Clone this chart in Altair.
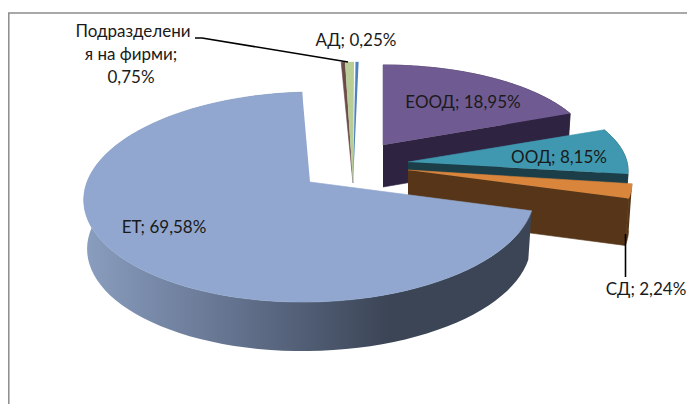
import math
import numpy as np
import pandas as pd
import altair as alt

# values (clockwise from 12 o'clock)
categories = ["ЕООД", "ООД", "СД", "ЕТ", "Подразделения на фирми", "АД"]
shares = [18.95, 8.15, 2.24, 69.58, 0.75, 0.25]

# colours
top_colors = ["#705a92", "#3f98b0", "#da853c", "#91a7cf", "#b9cd96", "#4f81bd"]
wall_colors = ["#2e2340", "#1b3e48", "#573518", "#3b4556", "#6b4a4a", "#7f9a52"]

# exploded-pie projection of each slice:
# apex x, y, radii, perspective, rotation, wall height, shear
geometry = [
    (383, 145, 209, 88, 0.10, 0.0, 42, 0.0),
    (408, 162, 219, 90, 0.10, 0.0, 44, 0.0),
    (408, 170, 223, 103, 0.10, 0.0, 47, 0.0),
    (310, 182, 223, 102.9, 0.143, 0.0, 49, -0.06),
    (353, 183, 215, 138, 0.14, 1.5, 0, 0.0),
    (353, 183, 215, 138, 0.14, 2.0, 0, 0.0),
]

X = alt.Scale(domain=[8, 687], nice=False, zero=False)
Y = alt.Scale(domain=[8, 404], nice=False, zero=False, reverse=True)


def pt(deg, g, bottom=False):
    ax, ay, R, S, k, d, h, sh = g
    a = math.radians(deg + d)
    w = 1 + k * math.cos(a)
    f = 0.985 if bottom else 1.0
    dy = -S * math.cos(a) / w
    return ax + f * R * math.sin(a) / w + sh * dy, ay + (h if bottom else 0) + dy


def shape(points, fill, stroke=None, sw=0.6):
    df = pd.DataFrame(points, columns=["x", "y"]).assign(i=range(len(points)))
    kw = dict(fill=fill, stroke=stroke if stroke else fill, strokeWidth=sw)
    return alt.Chart(df).mark_line(**kw).encode(
        x=alt.X("x:Q", scale=X, axis=None),
        y=alt.Y("y:Q", scale=Y, axis=None),
        order="i:Q",
    )


starts = np.concatenate([[0], np.cumsum(shares)[:-1]]) * 3.6
ends = np.cumsum(shares) * 3.6

et_gradient = alt.LinearGradient(
    gradient="linear", x1=0, x2=1, y1=0, y2=0,
    stops=[
        alt.GradientStop(color="#8a9ebf", offset=0),
        alt.GradientStop(color="#64738f", offset=0.33),
        alt.GradientStop(color="#3b4556", offset=0.68),
        alt.GradientStop(color="#3b4556", offset=1),
    ],
)

layers = []

# chart frame
frame = pd.DataFrame({"x": [8.8, 8.8, 687], "y": [404, 13, 13], "i": [0, 1, 2]})
layers.append(
    alt.Chart(frame).mark_line(color="#8c8c8c", strokeWidth=1.5).encode(
        x=alt.X("x:Q", scale=X, axis=None), y=alt.Y("y:Q", scale=Y, axis=None), order="i:Q"
    )
)

# thin slices at the top
for n in (4, 5):
    g = geometry[n]
    if n == 4:
        sliver = [(g[0], g[1])] + [pt(a, g) for a in (starts[n] - 1.2, starts[n])]
        layers.append(shape(sliver, wall_colors[n]))
    arc = [pt(a, g) for a in np.linspace(starts[n], ends[n], 5)]
    layers.append(shape([(g[0], g[1])] + arc, top_colors[n], sw=0.3))

# large slices: back to front
for n in (0, 1, 2, 3):
    g = geometry[n]
    apex = (g[0], g[1])
    arc = [pt(a, g) for a in np.linspace(starts[n], ends[n], 90)]
    low = [pt(a, g, True) for a in np.linspace(starts[n], ends[n], 90)]
    if n == 3:
        layers.append(shape(arc + low[::-1], et_gradient, stroke="transparent", sw=0))
    else:
        face = [apex, arc[-1], low[-1], (g[0], g[1] + g[6])]
        layers.append(shape(face, wall_colors[n]))
        layers.append(shape(arc + low[::-1], wall_colors[n]))
    layers.append(shape([apex] + arc, top_colors[n]))

# leader lines
leaders = [
    [(195, 38), (202, 38), (348, 62)],
    [(625.5, 234), (625.5, 277)],
]
for pts in leaders:
    layers.append(shape(pts, "none", stroke="#000000", sw=1.6))

# labels
label_text = ["АД; 0,25%", "ЕООД; 18,95%", "ООД; 8,15%", "СД; 2,24%", "ЕТ; 69,58%",
              "Подразделени", "я на фирми;", "0,75%"]
label_x = [356, 463, 559, 646, 164, 133, 131, 131]
label_y = [41, 103, 158, 290, 228, 32, 55, 78]
labels = pd.DataFrame({"t": label_text, "x": label_x, "y": label_y})
layers.append(
    alt.Chart(labels).mark_text(font="Lato", fontSize=17, color="#1a1a1a", align="center", baseline="middle").encode(
        x=alt.X("x:Q", scale=X, axis=None), y=alt.Y("y:Q", scale=Y, axis=None), text="t:N"
    )
)

chart = alt.layer(*layers).properties(
    width=679, height=396,
    padding={"left": 0, "right": 0, "top": 0, "bottom": 0},
    autosize=alt.AutoSizeParams(type="none", contains="padding"),
).configure_view(stroke=None)
chart.save("out.html", embed_options={"renderer": "svg", "actions": False})
